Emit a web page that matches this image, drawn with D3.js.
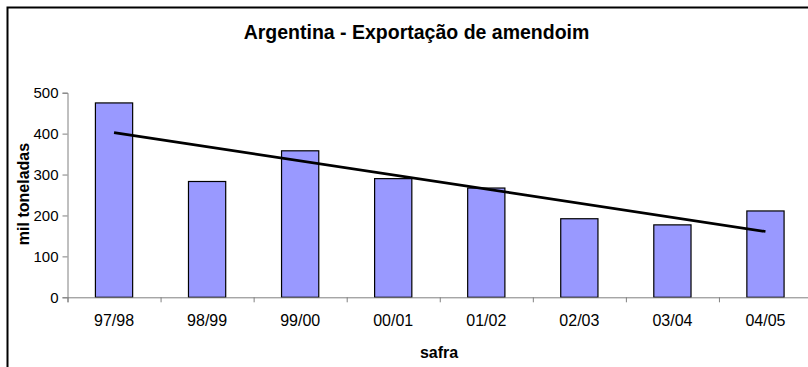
<!DOCTYPE html>
<html>
<head>
<meta charset="utf-8">
<script src="https://cdn.jsdelivr.net/npm/d3@7"></script>
<style>
  body { margin: 0; background: #fff; }
  svg { display: block; font-family: Arial, "Liberation Sans", sans-serif; }
</style>
</head>
<body>
<div id="chart"></div>
<script>
// data
var safras = ["97/98", "98/99", "99/00", "00/01", "01/02", "02/03", "03/04", "04/05"];
var exportacao = [475, 283, 358, 290, 267, 192, 177, 211];
var yTicks = [0, 100, 200, 300, 400, 500];

var W = 808, H = 367;
var plotLeft = 67.5, plotRight = 812, plotTop = 92.7, plotBottom = 297.3;

var svg = d3.select("#chart").append("svg")
    .attr("width", W)
    .attr("height", H);

// outer chart border (runs off the right and bottom of the picture)
svg.append("rect")
    .attr("x", 7.5).attr("y", 7.5)
    .attr("width", 900).attr("height", 500)
    .attr("fill", "none")
    .attr("stroke", "#000")
    .attr("stroke-width", 2);

var x = d3.scaleBand()
    .domain(safras)
    .range([plotLeft, plotRight])
    .paddingInner(0.6)
    .paddingOuter(0.3);

var xEdge = d3.scaleLinear()
    .domain([0, safras.length])
    .range([plotLeft, plotRight]);

var y = d3.scaleLinear()
    .domain([0, 500])
    .range([plotBottom, plotTop]);

// bars
svg.selectAll("rect.bar")
    .data(exportacao)
    .enter()
    .append("rect")
    .attr("class", "bar")
    .attr("x", function(d, i) { return x(safras[i]); })
    .attr("y", function(d) { return y(d); })
    .attr("width", x.bandwidth())
    .attr("height", function(d) { return plotBottom - y(d); })
    .attr("fill", "#9999ff")
    .attr("stroke", "#000")
    .attr("stroke-width", 1.2);

// axes
var yAxis = svg.append("g")
    .attr("transform", "translate(" + plotLeft + ",0)")
    .call(d3.axisLeft(y).tickValues(yTicks).tickSize(5).tickPadding(4));
yAxis.selectAll("path, line").attr("stroke", "#808080");
yAxis.selectAll("text").attr("fill", "#000").style("font-size", "15px");

var xTicks = svg.append("g")
    .attr("transform", "translate(0," + plotBottom + ")")
    .call(d3.axisBottom(xEdge).tickValues(d3.range(safras.length + 1)).tickSize(5).tickFormat(""));
xTicks.selectAll("path, line").attr("stroke", "#808080");

var xLabels = svg.append("g")
    .attr("transform", "translate(0," + plotBottom + ")")
    .call(d3.axisBottom(x).tickSize(0).tickPadding(17));
xLabels.select(".domain").remove();
xLabels.selectAll("text").attr("fill", "#000").style("font-size", "16px");

// linear trend line (least squares over the bars)
var n = exportacao.length;
var mx = d3.mean(d3.range(n)), my = d3.mean(exportacao);
var sxy = d3.sum(exportacao, function(d, i) { return (i - mx) * (d - my); });
var sxx = d3.sum(d3.range(n), function(i) { return (i - mx) * (i - mx); });
var slope = sxy / sxx, icpt = my - slope * mx;

svg.append("line")
    .attr("x1", x(safras[0]) + x.bandwidth() / 2)
    .attr("y1", y(icpt))
    .attr("x2", x(safras[n - 1]) + x.bandwidth() / 2)
    .attr("y2", y(icpt + slope * (n - 1)))
    .attr("stroke", "#000")
    .attr("stroke-width", 2.7);

// titles
svg.append("text")
    .attr("x", 416.5).attr("y", 39)
    .attr("text-anchor", "middle")
    .style("font-size", "19.5px").style("font-weight", "bold")
    .text("Argentina - Exportação de amendoim");

svg.append("text")
    .attr("x", 439).attr("y", 358)
    .attr("text-anchor", "middle")
    .style("font-size", "16px").style("font-weight", "bold")
    .text("safra");

svg.append("text")
    .attr("transform", "translate(29,194) rotate(-90)")
    .attr("text-anchor", "middle")
    .style("font-size", "16px").style("font-weight", "bold")
    .text("mil toneladas");
</script>
</body>
</html>
